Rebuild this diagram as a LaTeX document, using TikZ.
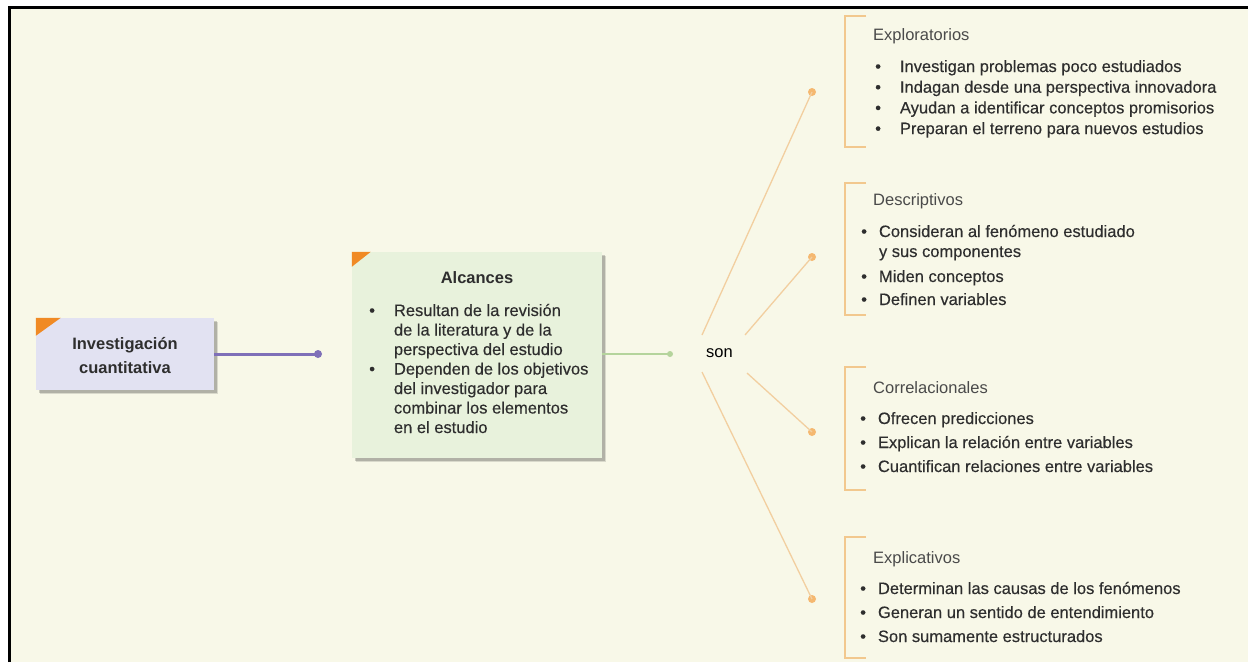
\documentclass[tikz,border=0pt]{standalone}
\usepackage{fontspec}
\setmainfont{Liberation Sans}
\newfontfamily\medfont{Liberation Sans}[FakeBold=0.35]
\usetikzlibrary{shadows}
\definecolor{bgc}{HTML}{F8F8E8}
\definecolor{boxa}{HTML}{E2E2F2}
\definecolor{boxb}{HTML}{E8F2DC}
\definecolor{orng}{HTML}{F08A24}
\definecolor{purp}{HTML}{7F70B8}
\definecolor{grn}{HTML}{B5D49C}
\definecolor{tanc}{HTML}{F2CFA0}
\definecolor{dotc}{HTML}{F5B870}
\definecolor{brkc}{HTML}{F2C88E}
\definecolor{ink}{HTML}{2E2E2E}
\definecolor{inkb}{HTML}{4A4A4A}
\begin{document}
\begin{tikzpicture}[x=1pt,y=-1pt,
  txt/.style={font=\fontsize{16.5}{20}\selectfont, text=ink, inner sep=0pt},
  ttl/.style={font=\fontsize{16.5}{20}\selectfont, text=inkb, inner sep=0pt, anchor=base west},
  shbox/.style={inner sep=0pt,
    drop shadow={shadow xshift=4pt,shadow yshift=-4pt,opacity=0.12,fill=black},
    drop shadow={shadow xshift=2.5pt,shadow yshift=-2.5pt,opacity=0.18,fill=black}},
  tanline/.style={draw=tanc, line width=1.3pt},
  brk/.style={draw=brkc, line width=2pt},
  dotn/.style={circle, fill=#1, inner sep=0pt, minimum size=8pt},
  lst/.style={txt, anchor=base west}
]
\useasboundingbox (0,0) rectangle (1248,662);
\fill[white] (0,0) rectangle (1248,662);
\fill[bgc] (9,7) rectangle (1248,662);
\draw[black, line width=3pt] (9,662) -- (9,7) -- (1248,7);

% main boxes
\node[shbox, fill=boxa, minimum width=178pt, minimum height=72pt] (inv) at (125,354) {};
\fill[orng] (inv.north west) -- ++(25,0) -- ++(-25,18) -- cycle;
\node[txt, font=\bfseries\fontsize{16.5}{24}\selectfont, align=center, anchor=center] (invt) at (125,356) {Investigación\\cuantitativa};

\node[shbox, fill=boxb, minimum width=250pt, minimum height=206pt] (alc) at (477,355) {};
\fill[orng] (alc.north west) -- ++(19,0) -- ++(-19,15) -- cycle;
\node[txt, font=\bfseries\fontsize{16.5}{20}\selectfont, anchor=base] (alct) at (477,283) {Alcances};
\node[lst, font=\medfont\fontsize{16.5}{19.5}\selectfont] (alcl) at (369,316) {\begin{tabular}[t]{@{}c@{\hspace{19pt}}l@{}}
\textbullet & Resultan de la revisión\\
 & de la literatura y de la\\
 & perspectiva del estudio\\
\textbullet & Dependen de los objetivos\\
 & del investigador para\\
 & combinar los elementos\\
 & en el estudio
\end{tabular}};

% connectors from boxes
\node[dotn=purp] (p1) at (318,354) {};
\draw[purp, line width=3pt] (inv.east) -- (p1.center);
\node[dotn=grn, minimum size=6pt] (g1) at (670,354) {};
\draw[grn, line width=1.5pt] (alc.east |- g1) -- (g1.center);

\node[txt, text=black, anchor=base west] (son) at (706,357) {son};

\coordinate (s1) at (702,335);
\coordinate (s2) at (745,335);
\coordinate (s3) at (747,373);
\coordinate (s4) at (702,372);
\node[dotn=dotc] (e1) at (812,92) {};
\node[dotn=dotc] (e2) at (812,257) {};
\node[dotn=dotc] (e3) at (812,432) {};
\node[dotn=dotc] (e4) at (812,599) {};
\draw[tanline] (s1) -- (e1.center);
\draw[tanline] (s2) -- (e2.center);
\draw[tanline] (s3) -- (e3.center);
\draw[tanline] (s4) -- (e4.center);

% brackets
\draw[brk] (866,16) -- (845,16) -- (845,147) -- (866,147);
\draw[brk] (866,183) -- (845,183) -- (845,315) -- (866,315);
\draw[brk] (866,367) -- (845,367) -- (845,490) -- (866,490);
\draw[brk] (866,537) -- (845,537) -- (845,658) -- (866,658);

% Exploratorios
\node[ttl] (t1) at (873,40) {Exploratorios};
\node[lst, font=\medfont\fontsize{16.5}{20.7}\selectfont] (l1) at (875,72) {\begin{tabular}[t]{@{}c@{\hspace{19pt}}l@{}}
\textbullet & Investigan problemas poco estudiados\\
\textbullet & Indagan desde una perspectiva innovadora\\
\textbullet & Ayudan a identificar conceptos promisorios\\
\textbullet & Preparan el terreno para nuevos estudios
\end{tabular}};

% Descriptivos
\node[ttl] (t2) at (873,205) {Descriptivos};
\node[lst, font=\medfont\fontsize{16.5}{20}\selectfont] (l2) at (861,237) {\begin{tabular}[t]{@{}c@{\hspace{12pt}}l@{}}
\textbullet & Consideran al fenómeno estudiado\\
 & y sus componentes\\[5pt]
\textbullet & Miden conceptos\\[3pt]
\textbullet & Definen variables
\end{tabular}};

% Correlacionales
\node[ttl] (t3) at (873,393) {Correlacionales};
\node[lst, font=\medfont\fontsize{16.5}{24}\selectfont] (l3) at (860,424) {\begin{tabular}[t]{@{}c@{\hspace{12pt}}l@{}}
\textbullet & Ofrecen predicciones\\
\textbullet & Explican la relación entre variables\\
\textbullet & Cuantifican relaciones entre variables
\end{tabular}};

% Explicativos
\node[ttl] (t4) at (873,563) {Explicativos};
\node[lst, font=\medfont\fontsize{16.5}{24}\selectfont] (l4) at (860,594) {\begin{tabular}[t]{@{}c@{\hspace{12pt}}l@{}}
\textbullet & Determinan las causas de los fenómenos\\
\textbullet & Generan un sentido de entendimiento\\
\textbullet & Son sumamente estructurados
\end{tabular}};
\end{tikzpicture}
\end{document}
